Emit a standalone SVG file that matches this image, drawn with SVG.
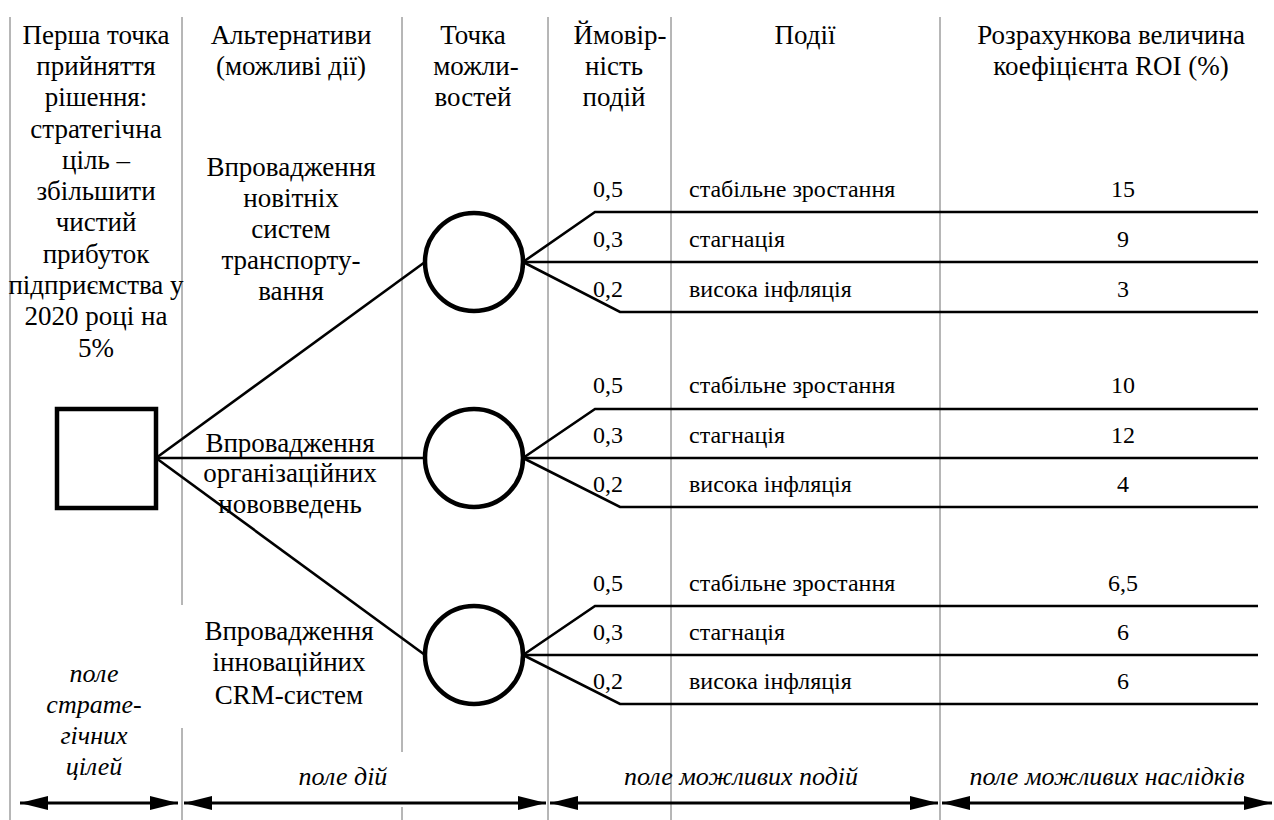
<svg xmlns="http://www.w3.org/2000/svg" width="1274" height="820" viewBox="0 0 1274 820" font-family="Liberation Serif">
<defs>
<style>
text{font-family:'Liberation Serif','Times New Roman',serif;fill:#000}
.grid{stroke:#6e6e6e;stroke-width:1;fill:none}
.t{font-size:27px;text-anchor:middle}
.s{font-size:24px}
.n{text-anchor:middle}
.it{font-size:26px;font-style:italic;text-anchor:middle}
.edge{stroke:#000;stroke-width:2.6;fill:none}
.node{stroke:#000;stroke-width:4.5;fill:#fff}
.dim{stroke:#000;stroke-width:3;fill:none;marker-start:url(#ah);marker-end:url(#ah)}
</style>
<marker id="ah" markerUnits="userSpaceOnUse" markerWidth="28" markerHeight="14" refX="28" refY="7" orient="auto-start-reverse">
<path d="M0,0 L28,7 L0,14 Z" fill="#000"/>
</marker>
</defs>
<rect width="1274" height="820" fill="#fff"/>

<g id="grid">
<line class="grid" x1="10" y1="17" x2="10" y2="820"/>
<line class="grid" x1="182" y1="17" x2="182" y2="605"/>
<line class="grid" x1="182" y1="728" x2="182" y2="820"/>
<line class="grid" x1="402" y1="17" x2="402" y2="752"/>
<line class="grid" x1="402" y1="807" x2="402" y2="820"/>
<line class="grid" x1="548" y1="17" x2="548" y2="820"/>
<line class="grid" x1="671" y1="17" x2="671" y2="820"/>
<line class="grid" x1="940" y1="17" x2="940" y2="820"/>
</g>

<g id="headers">
<text class="t" x="96" y="44">Перша точка</text>
<text class="t" x="96" y="75">прийняття</text>
<text class="t" x="96" y="106">рішення:</text>
<text class="t" x="96" y="138">стратегічна</text>
<text class="t" x="96" y="169">ціль –</text>
<text class="t" x="96" y="200">збільшити</text>
<text class="t" x="96" y="231">чистий</text>
<text class="t" x="96" y="263">прибуток</text>
<text class="t" x="96" y="294">підприємства у</text>
<text class="t" x="96" y="325">2020 році на</text>
<text class="t" x="96" y="357">5%</text>
<text class="t" x="291" y="44">Альтернативи</text>
<text class="t" x="291" y="75">(можливі дії)</text>
<text class="t" x="473" y="44">Точка</text>
<text class="t" x="476" y="75">можли-</text>
<text class="t" x="473" y="106">востей</text>
<text class="t" x="620" y="44">Ймовір-</text>
<text class="t" x="614" y="75">ність</text>
<text class="t" x="614" y="106">подій</text>
<text class="t" x="805" y="44">Події</text>
<text class="t" x="1111" y="44">Розрахункова величина</text>
<text class="t" x="1111" y="75">коефіцієнта ROI (%)</text>
</g>

<g id="alternatives">
<text class="t" x="291" y="176">Впровадження</text>
<text class="t" x="291" y="207">новітніх</text>
<text class="t" x="291" y="238">систем</text>
<text class="t" x="291" y="269">транспорту-</text>
<text class="t" x="291" y="300">вання</text>
<text class="t" x="290" y="452">Впровадження</text>
<text class="t" x="290" y="482">організаційних</text>
<text class="t" x="290" y="513">нововведень</text>
<text class="t" x="289" y="640">Впровадження</text>
<text class="t" x="289" y="671">інноваційних</text>
<text class="t" x="289" y="704">CRM-систем</text>
</g>

<g id="connectors">
<line class="edge" x1="156" y1="458" x2="425" y2="262"/>
<line class="edge" x1="156" y1="458" x2="425" y2="458"/>
<line class="edge" x1="156" y1="458" x2="425" y2="655"/>
<polyline class="edge" points="523,262 595,212 1258,212"/>
<line class="edge" x1="523" y1="262" x2="1258" y2="262"/>
<polyline class="edge" points="523,262 620,312 1258,312"/>
<polyline class="edge" points="523,458 595,409 1258,409"/>
<line class="edge" x1="523" y1="458" x2="1258" y2="458"/>
<polyline class="edge" points="523,458 620,507 1258,507"/>
<polyline class="edge" points="523,655 595,606 1258,606"/>
<line class="edge" x1="523" y1="655" x2="1258" y2="655"/>
<polyline class="edge" points="523,655 620,704 1258,704"/>
</g>

<g id="decision"><rect class="node" x="57" y="409" width="99" height="99"/></g>
<g id="chance1"><circle class="node" cx="474" cy="262" r="49"/></g>
<g id="chance2"><circle class="node" cx="474" cy="458" r="49"/></g>
<g id="chance3"><circle class="node" cx="474" cy="655" r="49"/></g>

<g id="events1">
<text class="s n" x="608" y="197">0,5</text>
<text class="s" x="689" y="197">стабільне зростання</text>
<text class="s n" x="1123" y="197">15</text>
<text class="s n" x="608" y="247">0,3</text>
<text class="s" x="689" y="247">стагнація</text>
<text class="s n" x="1123" y="247">9</text>
<text class="s n" x="608" y="297">0,2</text>
<text class="s" x="689" y="297">висока інфляція</text>
<text class="s n" x="1123" y="297">3</text>
</g>
<g id="events2">
<text class="s n" x="608" y="393">0,5</text>
<text class="s" x="689" y="393">стабільне зростання</text>
<text class="s n" x="1123" y="393">10</text>
<text class="s n" x="608" y="443">0,3</text>
<text class="s" x="689" y="443">стагнація</text>
<text class="s n" x="1123" y="443">12</text>
<text class="s n" x="608" y="492">0,2</text>
<text class="s" x="689" y="492">висока інфляція</text>
<text class="s n" x="1123" y="492">4</text>
</g>
<g id="events3">
<text class="s n" x="608" y="591">0,5</text>
<text class="s" x="689" y="591">стабільне зростання</text>
<text class="s n" x="1123" y="591">6,5</text>
<text class="s n" x="608" y="640">0,3</text>
<text class="s" x="689" y="640">стагнація</text>
<text class="s n" x="1123" y="640">6</text>
<text class="s n" x="608" y="689">0,2</text>
<text class="s" x="689" y="689">висока інфляція</text>
<text class="s n" x="1123" y="689">6</text>
</g>

<g id="fields">
<text class="it" x="94" y="682">поле</text>
<text class="it" x="94" y="713">страте-</text>
<text class="it" x="94" y="744">гічних</text>
<text class="it" x="94" y="775">цілей</text>
<text class="it" x="343" y="785">поле дій</text>
<text class="it" x="741" y="785">поле можливих подій</text>
<text class="it" x="1107" y="785">поле можливих наслідків</text>
<line class="dim" x1="20" y1="803" x2="178" y2="803"/>
<line class="dim" x1="184" y1="803" x2="546" y2="803"/>
<line class="dim" x1="550" y1="803" x2="938" y2="803"/>
<line class="dim" x1="942" y1="803" x2="1272" y2="803"/>
</g>
</svg>
